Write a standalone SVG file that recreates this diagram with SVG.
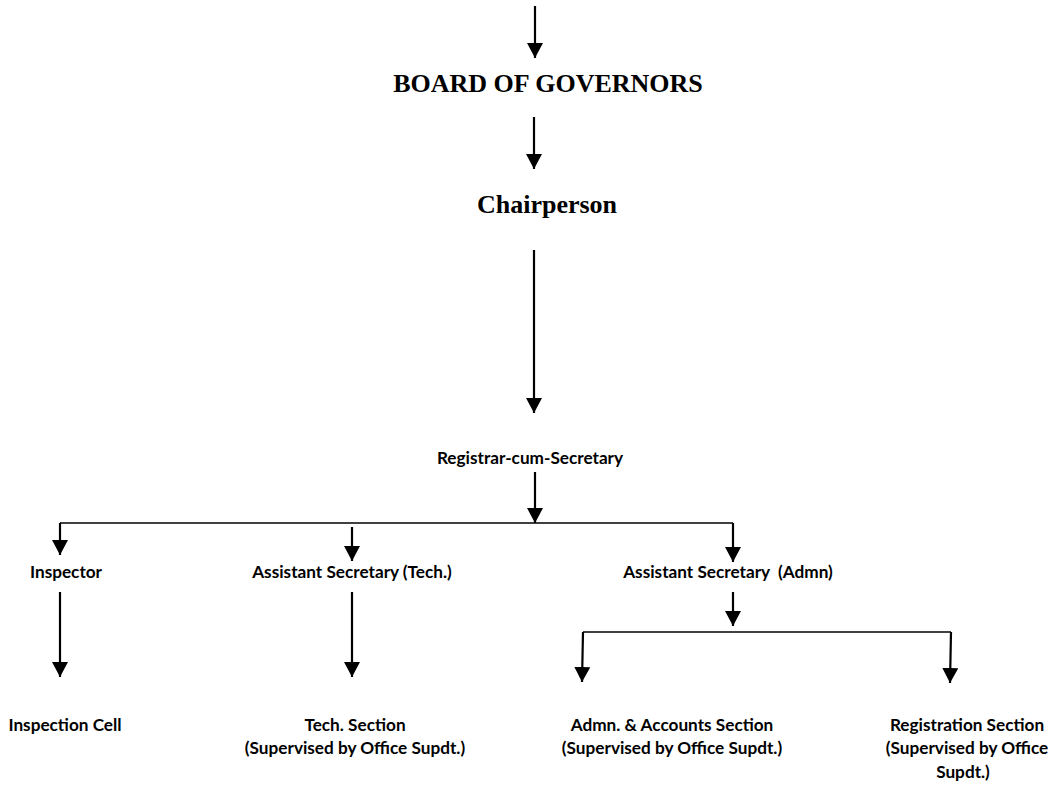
<svg xmlns="http://www.w3.org/2000/svg" width="1060" height="787" viewBox="0 0 1060 787">
<style>
.bg{fill:#fff}
.t1{font-family:"Liberation Serif","Times New Roman",serif;font-weight:bold;font-size:26px;fill:#000;text-anchor:middle}
.t2{font-family:Lato,"Liberation Sans",sans-serif;font-weight:bold;font-size:17.2px;fill:#000;text-anchor:middle;white-space:pre}
.ar{stroke:#000;stroke-width:2.2;fill:none;marker-end:url(#ah)}
.ln{stroke:#000;stroke-width:1.6;fill:none}
</style>
<defs>
<marker id="ah" markerUnits="userSpaceOnUse" viewBox="0 -8 15 16" refX="15" refY="0" markerWidth="15" markerHeight="16" orient="auto">
<path d="M0,-8 L15,0 L0,8 Z" fill="#000"/>
</marker>
</defs>
<rect class="bg" width="1060" height="787"/>
<g id="connectors">
<path class="ar" d="M535,6 L535,58"/>
<path class="ar" d="M534,117 L534,169"/>
<path class="ar" d="M534,250 L534,413"/>
<path class="ar" d="M535,472 L535,523"/>
<path class="ln" d="M60,523 L733,523"/>
<path class="ar" d="M60,523 L60,555"/>
<path class="ar" d="M352,527 L352,561"/>
<path class="ar" d="M733,523 L733,562"/>
<path class="ar" d="M60,592 L60,677"/>
<path class="ar" d="M352,592 L352,677"/>
<path class="ar" d="M733,592 L733,626"/>
<path class="ln" d="M583,632 L951,632"/>
<path class="ar" d="M583,632 L582,682"/>
<path class="ar" d="M951,632 L950,683"/>
</g>
<g id="board"><text class="t1" x="548" y="92">BOARD OF GOVERNORS</text></g>
<g id="chairperson"><text class="t1" x="547" y="213">Chairperson</text></g>
<g id="registrar"><text class="t2" x="530" y="464">Registrar-cum-Secretary</text></g>
<g id="inspector"><text class="t2" x="66" y="578">Inspector</text></g>
<g id="asst-tech"><text class="t2" x="352" y="578">Assistant Secretary (Tech.)</text></g>
<g id="asst-admn"><text class="t2" x="728" y="578">Assistant Secretary  (Admn)</text></g>
<g id="inspection-cell"><text class="t2" x="65" y="731">Inspection Cell</text></g>
<g id="tech-section"><text class="t2" x="355" y="731">Tech. Section</text><text class="t2" x="355" y="754">(Supervised by Office Supdt.)</text></g>
<g id="admn-section"><text class="t2" x="672" y="731">Admn. &amp; Accounts Section</text><text class="t2" x="672" y="754">(Supervised by Office Supdt.)</text></g>
<g id="registration-section"><text class="t2" x="967" y="731">Registration Section</text><text class="t2" x="967" y="754">(Supervised by Office</text><text class="t2" x="963" y="778">Supdt.)</text></g>
</svg>
